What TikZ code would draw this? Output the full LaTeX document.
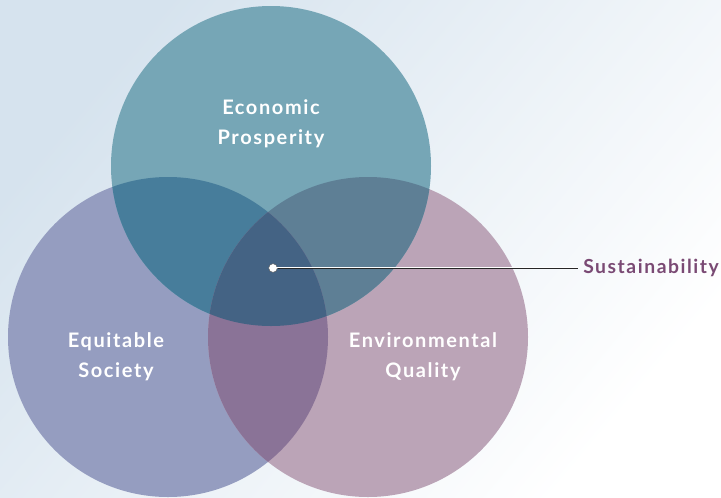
\documentclass[tikz,border=0pt]{standalone}
\usepackage{fontspec}
\setmainfont{Lato}
\newfontfamily\widefont[LetterSpace=8]{Lato}
\usetikzlibrary{positioning}
\definecolor{ecoC}{HTML}{76A6B6}
\definecolor{socC}{HTML}{959DC0}
\definecolor{envC}{HTML}{BBA4B7}
\definecolor{ecosocC}{HTML}{477D9B}
\definecolor{ecoenvC}{HTML}{5E7F95}
\definecolor{socenvC}{HTML}{8A7397}
\definecolor{allC}{HTML}{446384}
\definecolor{bgC}{HTML}{D6E3EE}
\definecolor{susC}{HTML}{7A4A74}
\tikzset{
circlabel/.style={
	  text=white, font=\widefont\fontsize{15}{22.8}\selectfont\bfseries,
	    align=center},
sustlabel/.style={
	  text=susC, font=\widefont\fontsize{14.5}{18}\selectfont\bfseries,
	    anchor=west, inner sep=0pt}
}
\newcommand{\rad}{160}

\begin{document}
\begin{tikzpicture}[x=0.75pt, y=-0.75pt]
	\useasboundingbox (0,0) rectangle (721,497);
	\shade[top color=bgC, bottom color=white, shading angle=50] (0,0) rectangle (721,497);
	\coordinate (eco) at (271,166);
	\coordinate (soc) at (168,337);
	\coordinate (env) at (368,337);
	% the three circles
	\fill[socC] (soc) circle [radius=\rad];
	\fill[envC] (env) circle [radius=\rad];
	\fill[ecoC] (eco) circle [radius=\rad];
	% overlaps
	\begin{scope}
		\clip (eco) circle [radius=\rad];
		\fill[ecosocC] (soc) circle [radius=\rad];
		\fill[ecoenvC] (env) circle [radius=\rad];
	\end{scope}
	\begin{scope}
		\clip (soc) circle [radius=\rad];
		\fill[socenvC] (env) circle [radius=\rad];
		\clip (env) circle [radius=\rad];
		\fill[allC] (eco) circle [radius=\rad];
	\end{scope}
	\node[circlabel] (ecotext) at (271,124) {Economic\\Prosperity};
	\node[circlabel] (soctext) at (116,357) {Equitable\\Society};
	\node[circlabel] (envtext) at (423,357) {Environmental\\Quality};
	\node[sustlabel] (sust) at (583,268) {Sustainability};
	\node[circle, fill=white, draw=black!70, line width=0.3pt, inner sep=0pt, minimum size=6.5pt] (dot) at (273,268) {};
	\draw[black!85, line width=1.1pt] (dot) -- ([xshift=-4pt]sust.west);
	\draw[white, line width=0.6pt] ([yshift=0.25pt]dot.center) -- ([yshift=0.25pt,xshift=-4pt]sust.west);
\end{tikzpicture}
\end{document}
